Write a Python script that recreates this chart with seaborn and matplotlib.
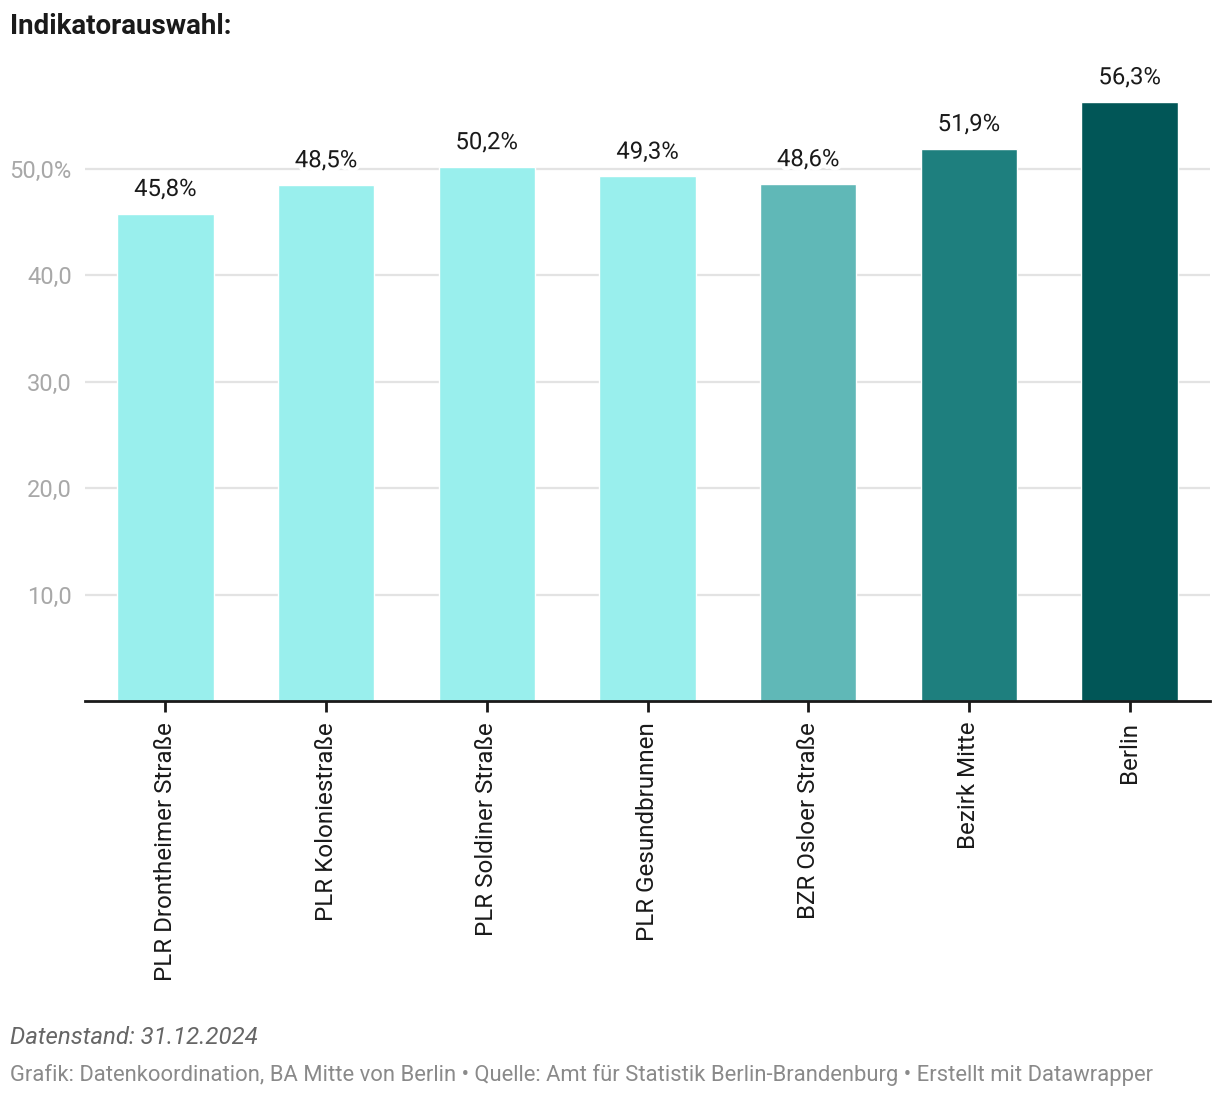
import matplotlib
matplotlib.use("Agg")
import matplotlib.pyplot as plt
import matplotlib.patheffects as pe
import seaborn as sns
import pandas as pd

categories = ["PLR Drontheimer Straße", "PLR Koloniestraße", "PLR Soldiner Straße",
              "PLR Gesundbrunnen", "BZR Osloer Straße", "Bezirk Mitte", "Berlin"]
values = [45.8, 48.5, 50.2, 49.3, 48.6, 51.9, 56.3]
value_labels = ["45,8%", "48,5%", "50,2%", "49,3%", "48,6%", "51,9%", "56,3%"]
bar_colors = ["#99efed", "#99efed", "#99efed", "#99efed", "#60b8b7", "#1e7f7e", "#015657"]
y_ticks = [10, 20, 30, 40, 50]
y_tick_labels = ["10,0", "20,0", "30,0", "40,0", "50,0%"]
title = "Indikatorauswahl:"
note = "Datenstand: 31.12.2024"
source = "Grafik: Datenkoordination, BA Mitte von Berlin • Quelle: Amt für Statistik Berlin-Brandenburg • Erstellt mit Datawrapper"

sns.set_theme(style="white")
plt.rcParams["font.family"] = ["Roboto", "DejaVu Sans"]

df = pd.DataFrame({"cat": categories, "val": values})

fig = plt.figure(figsize=(12.2, 11), dpi=100)
ax = fig.add_axes([85 / 1220, (1100 - 701) / 1100, 1125 / 1220, (701 - 62.6) / 1100])

sns.barplot(data=df, x="cat", y="val", hue="cat", palette=bar_colors, legend=False,
            width=0.6, saturation=1, ax=ax, zorder=3)

ax.set_xlim(-0.5, 6.5)
ax.set_ylim(0, 60)
ax.set_yticks(y_ticks)
ax.set_yticklabels(y_tick_labels, fontsize=17, color="#a8a8a8")
ax.tick_params(axis="y", length=0, pad=9.5)
ax.tick_params(axis="x", length=8, width=2, color="#1a1a1a", pad=7, bottom=True)
ax.set_xticks(range(len(categories)))
ax.set_xticklabels(categories, rotation=90, fontsize=17.4, color="#1a1a1a", va="top", ha="center")
ax.set_xlabel("")
ax.set_ylabel("")
for t in y_ticks:
    ax.axhline(t, color="#e3e3e3", lw=1.6, zorder=1)
for s in ["top", "right", "left"]:
    ax.spines[s].set_visible(False)
ax.spines["bottom"].set_color("#1a1a1a")
ax.spines["bottom"].set_linewidth(2)
ax.spines["bottom"].set_zorder(5)

for i, (v, lab) in enumerate(zip(values, value_labels)):
    ax.text(i, v + 1.2, lab, ha="center", va="bottom", fontsize=17.2, color="#1a1a1a",
            zorder=6, path_effects=[pe.withStroke(linewidth=6, foreground="white")])

fig.text(10 / 1220, 1 - 27 / 1100, title, fontsize=20, fontweight="bold", color="#1a1a1a",
         ha="left", va="center")
fig.text(10 / 1220, 1 - 1038 / 1100, note, fontsize=17.3, style="italic", color="#666666",
         ha="left", va="center")
fig.text(10 / 1220, 1 - 1075 / 1100, source, fontsize=15.85, color="#8a8a8a",
         ha="left", va="center")

fig.savefig("out.png", dpi=100, facecolor="white")
